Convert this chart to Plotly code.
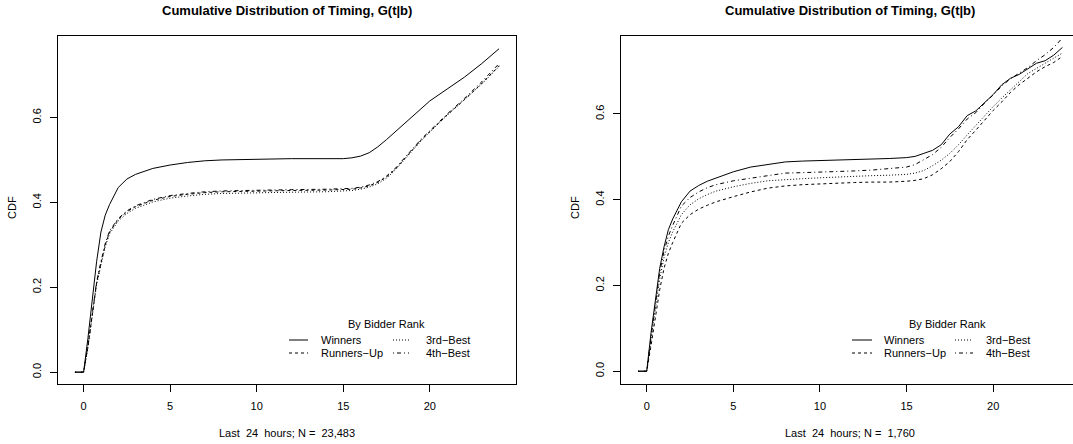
import plotly.graph_objects as go

# ---------------- data ----------------
# Hours before auction close (left panel: all auctions)
T_LEFT = [-0.5, 0, 0.25, 0.5, 0.75, 1, 1.25, 1.5, 2, 2.5, 3, 4, 5, 6, 7, 8, 10, 12,
          14, 15, 15.5, 16, 16.5, 17, 17.5, 18, 18.5, 19, 19.5, 20, 21, 22, 23, 24]
WIN_LEFT = [0, 0, 0.08, 0.17, 0.26, 0.33, 0.37, 0.395, 0.435, 0.455, 0.466, 0.48, 0.488,
            0.494, 0.498, 0.50, 0.502, 0.503, 0.503, 0.503, 0.505, 0.509, 0.517, 0.531,
            0.548, 0.566, 0.584, 0.603, 0.622, 0.639, 0.667, 0.695, 0.727, 0.762]
RUN_LEFT = [0, 0, 0.06, 0.14, 0.21, 0.256, 0.30, 0.33, 0.36, 0.378, 0.39, 0.405, 0.414,
            0.419, 0.423, 0.425, 0.427, 0.428, 0.429, 0.43, 0.431, 0.434, 0.439, 0.447,
            0.46, 0.478, 0.50, 0.524, 0.547, 0.567, 0.606, 0.642, 0.68, 0.722]
THIRD_LEFT = [0, 0, 0.058, 0.137, 0.206, 0.252, 0.296, 0.326, 0.356, 0.374, 0.386, 0.401,
              0.41, 0.415, 0.419, 0.421, 0.423, 0.424, 0.425, 0.426, 0.428, 0.431, 0.436,
              0.444, 0.457, 0.476, 0.498, 0.522, 0.545, 0.566, 0.605, 0.641, 0.679, 0.72]
FOURTH_LEFT = [0, 0, 0.062, 0.142, 0.213, 0.26, 0.303, 0.333, 0.362, 0.38, 0.392, 0.407,
               0.416, 0.421, 0.425, 0.427, 0.429, 0.43, 0.431, 0.432, 0.433, 0.436, 0.441,
               0.449, 0.462, 0.48, 0.502, 0.526, 0.549, 0.569, 0.608, 0.645, 0.684, 0.727]

# Right panel: subsample
T_RIGHT = [-0.5, 0, 0.25, 0.5, 0.75, 1, 1.25, 1.5, 2, 2.5, 3, 3.5, 4, 5, 6, 7, 8, 9, 10,
           11, 12, 13, 14, 15, 15.5, 16, 16.5, 17, 17.5, 18, 18.5, 19, 19.5, 20, 20.5, 21,
           21.5, 22, 22.5, 23, 23.5, 24]
WIN_RIGHT = [0, 0, 0.09, 0.17, 0.24, 0.29, 0.33, 0.355, 0.395, 0.42, 0.433, 0.443, 0.45,
             0.465, 0.476, 0.482, 0.488, 0.49, 0.491, 0.492, 0.494, 0.495, 0.496, 0.498,
             0.501, 0.508, 0.515, 0.528, 0.553, 0.57, 0.596, 0.607, 0.627, 0.645, 0.668,
             0.683, 0.692, 0.706, 0.718, 0.724, 0.737, 0.755]
RUN_RIGHT = [0, 0, 0.06, 0.13, 0.19, 0.24, 0.275, 0.30, 0.345, 0.365, 0.378, 0.387, 0.395,
             0.407, 0.418, 0.427, 0.432, 0.435, 0.437, 0.439, 0.44, 0.441, 0.441, 0.443,
             0.445, 0.449, 0.458, 0.472, 0.489, 0.512, 0.54, 0.562, 0.585, 0.608, 0.628,
             0.65, 0.668, 0.684, 0.698, 0.71, 0.72, 0.734]
THIRD_RIGHT = [0, 0, 0.075, 0.15, 0.215, 0.265, 0.30, 0.325, 0.365, 0.388, 0.402, 0.412,
               0.42, 0.43, 0.438, 0.444, 0.447, 0.449, 0.451, 0.453, 0.454, 0.456, 0.457,
               0.459, 0.462, 0.468, 0.479, 0.492, 0.508, 0.528, 0.551, 0.573, 0.597, 0.617,
               0.637, 0.657, 0.675, 0.694, 0.706, 0.717, 0.728, 0.742]
FOURTH_RIGHT = [0, 0, 0.08, 0.16, 0.23, 0.28, 0.315, 0.34, 0.385, 0.405, 0.418, 0.428,
                0.435, 0.444, 0.45, 0.457, 0.462, 0.463, 0.464, 0.466, 0.467, 0.469, 0.472,
                0.476, 0.482, 0.493, 0.505, 0.522, 0.545, 0.565, 0.588, 0.603, 0.625, 0.644,
                0.665, 0.682, 0.694, 0.708, 0.724, 0.738, 0.755, 0.777]

SERIES_NAMES = ["Winners", "Runners\u2212Up", "3rd\u2212Best", "4th\u2212Best"]
X_TICKS = [0, 5, 10, 15, 20]
Y_TICKS = [0.0, 0.2, 0.4, 0.6]
TITLE = "Cumulative Distribution of Timing, G(t|b)"
X_TITLES = ["Last\u00a0 24\u00a0 hours; N =\u00a0 23,483", "Last\u00a0 24\u00a0 hours; N =\u00a0 1,760"]

# ---------------- styling ----------------
W, H = 1073, 444
FONT = "Liberation Sans, Arial, Helvetica, sans-serif"
DASHES = ["solid", "3px,3px", "1px,2px", "1px,3px,4px,3px"]


def px(xp):
    return xp / W


def py(yp):
    return 1 - yp / H


fig = go.Figure()

panels = [
    (T_LEFT, [WIN_LEFT, RUN_LEFT, THIRD_LEFT, FOURTH_LEFT], "x", "y"),
    (T_RIGHT, [WIN_RIGHT, RUN_RIGHT, THIRD_RIGHT, FOURTH_RIGHT], "x2", "y2"),
]
for t, series, xa, ya in panels:
    for name, vals, dash in zip(SERIES_NAMES, series, DASHES):
        fig.add_trace(go.Scatter(x=t, y=vals, mode="lines", name=name, xaxis=xa, yaxis=ya,
                                 line=dict(color="black", width=1, dash=dash),
                                 showlegend=False, hoverinfo="skip"))

axis_common = dict(showline=True, linecolor="black", linewidth=1, ticks="outside",
                   ticklen=7, tickcolor="black", tickwidth=1, showgrid=False,
                   zeroline=False, tickfont=dict(family=FONT, size=11, color="black"))

Y_DOMAIN = [py(383.5), py(36)]
fig.update_layout(
    width=W, height=H,
    margin=dict(l=0, r=0, t=0, b=0),
    paper_bgcolor="white", plot_bgcolor="white",
    xaxis=dict(domain=[px(58), px(516)], range=[-1.479, 24.979], mirror=True,
               tickvals=X_TICKS, ticklabelstandoff=5, anchor="y", **axis_common),
    yaxis=dict(domain=Y_DOMAIN, range=[-0.0267, 0.792], mirror=True,
               tickvals=Y_TICKS, tickformat=".1f", tickangle=-90,
               ticklabelstandoff=5, anchor="x", **axis_common),
    xaxis2=dict(domain=[px(621.1), 1], range=[-1.479, 24.61], mirror=True,
                tickvals=X_TICKS, ticklabelstandoff=5, anchor="y2", **axis_common),
    yaxis2=dict(domain=Y_DOMAIN, range=[-0.0286, 0.7816], mirror=False,
                tickvals=Y_TICKS, tickformat=".1f", tickangle=-90,
                ticklabelstandoff=5, anchor="x2", **axis_common),
)

annotations = []
shapes = []
txt = dict(family=FONT, size=11, color="black")

for cx, ylab_x, xt, leg in [(287, 12, X_TITLES[0], (289, 308, 319, 393, 409, 424, 386)),
                            (850, 575, X_TITLES[1], (852, 872, 882, 955, 973, 984, 947.5))]:
    # panel title
    annotations.append(dict(x=px(cx), y=py(10.5), xref="paper", yref="paper",
                            text="<b>" + TITLE + "</b>", showarrow=False,
                            xanchor="center", yanchor="middle",
                            font=dict(family=FONT, size=13, color="black")))
    # axis titles
    annotations.append(dict(x=px(cx), y=py(433), xref="paper", yref="paper", text=xt,
                            showarrow=False, xanchor="center", yanchor="middle", font=txt))
    annotations.append(dict(x=px(ylab_x), y=py(208), xref="paper", yref="paper", text="CDF",
                            showarrow=False, textangle=-90, xanchor="center",
                            yanchor="middle", font=txt))
    # legend
    l1a, l1b, t1, l2a, l2b, t2, title_c = leg
    annotations.append(dict(x=px(title_c), y=py(324), xref="paper", yref="paper",
                            text="By Bidder Rank", showarrow=False, xanchor="center",
                            yanchor="middle", font=txt))
    entries = [(l1a, l1b, t1, 340, 0), (l1a, l1b, t1, 353, 1),
               (l2a, l2b, t2, 340, 2), (l2a, l2b, t2, 353, 3)]
    for xa_, xb_, tx, yy, k in entries:
        shapes.append(dict(type="line", xref="paper", yref="paper",
                           x0=px(xa_), x1=px(xb_), y0=py(yy), y1=py(yy),
                           line=dict(color="black", width=1, dash=DASHES[k])))
        annotations.append(dict(x=px(tx), y=py(yy), xref="paper", yref="paper",
                                text=SERIES_NAMES[k], showarrow=False, xanchor="left",
                                yanchor="middle", font=txt))

fig.update_layout(annotations=annotations, shapes=shapes)
fig.write_html("out.html")
